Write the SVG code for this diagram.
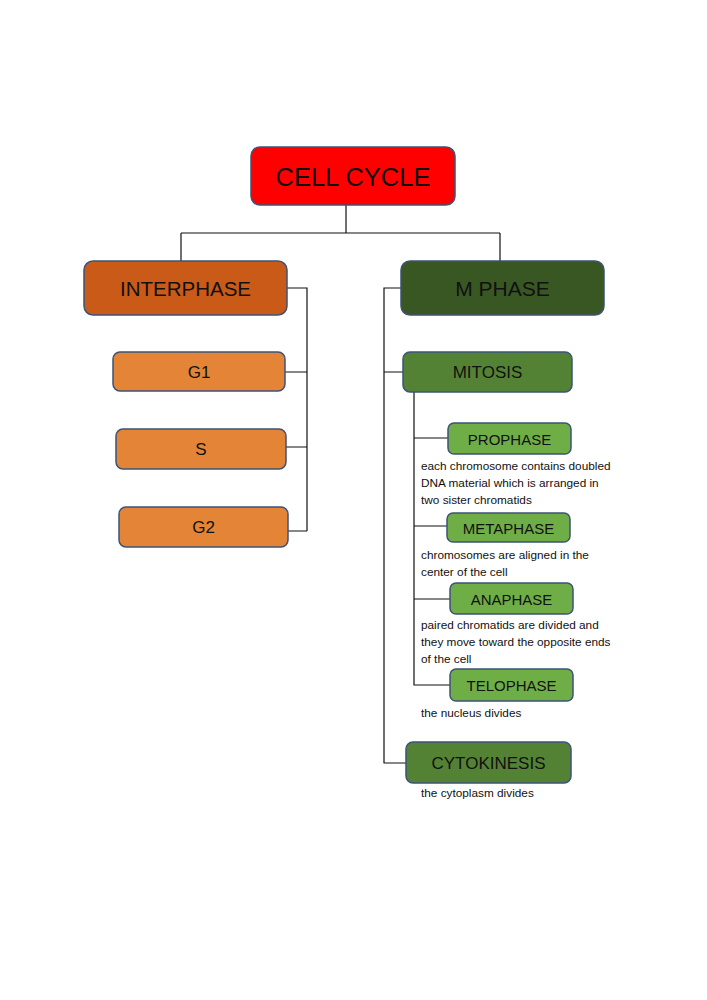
<svg xmlns="http://www.w3.org/2000/svg" width="707" height="1000" viewBox="0 0 707 1000">
<style>
.box{stroke:#3D5377;stroke-width:1.5}
.lbl{font-family:"Liberation Sans",Arial,sans-serif;fill:#111;text-anchor:middle;dominant-baseline:central}
.desc{font-family:"Liberation Sans",Arial,sans-serif;fill:#111;font-size:11.8px}
.conn{fill:none;stroke:#111;stroke-width:1.2}
</style>
<rect width="707" height="1000" fill="#fff"/>
<g id="connectors">
<path class="conn" d="M346,205 V233 M181,233 H500 M181,233 V261 M500,233 V261"/>
<path class="conn" d="M287,288 H307 V531 M307,372 H285 M307,447 H286 M307,531 H288"/>
<path class="conn" d="M401,288 H384 V763 H406 M384,372 H403"/>
<path class="conn" d="M414,392 V685 H450 M414,438 H448 M414,526 H447 M414,599 H450"/>
</g>
<g id="cell-cycle">
<rect class="box" x="251" y="147" width="204" height="58" rx="9" fill="#FF0000"/>
<text class="lbl" x="353" y="177" font-size="25.5">CELL CYCLE</text>
</g>
<g id="interphase">
<rect class="box" x="84" y="261" width="203" height="54" rx="9" fill="#C95A18"/>
<text class="lbl" x="185.5" y="288" font-size="20.5">INTERPHASE</text>
</g>
<g id="m-phase">
<rect class="box" x="401" y="261" width="203" height="54" rx="9" fill="#385723"/>
<text class="lbl" x="502.5" y="288" font-size="21">M PHASE</text>
</g>
<g id="g1">
<rect class="box" x="113" y="352" width="172" height="39" rx="7" fill="#E38436"/>
<text class="lbl" x="199" y="372" font-size="17">G1</text>
</g>
<g id="s">
<rect class="box" x="116" y="429" width="170" height="40" rx="7" fill="#E38436"/>
<text class="lbl" x="201" y="449" font-size="17">S</text>
</g>
<g id="g2">
<rect class="box" x="119" y="507" width="169" height="40" rx="7" fill="#E38436"/>
<text class="lbl" x="203.5" y="527" font-size="17">G2</text>
</g>
<g id="mitosis">
<rect class="box" x="403" y="352" width="169" height="40" rx="7" fill="#548235"/>
<text class="lbl" x="487.5" y="372" font-size="17">MITOSIS</text>
</g>
<g id="prophase">
<rect class="box" x="448" y="423" width="123" height="31" rx="6" fill="#6FAE47"/>
<text class="lbl" x="509.5" y="439" font-size="15">PROPHASE</text>
<text class="desc" x="421" y="470">each chromosome contains doubled</text>
<text class="desc" x="421" y="487">DNA material which is arranged in</text>
<text class="desc" x="421" y="504">two sister chromatids</text>
</g>
<g id="metaphase">
<rect class="box" x="447" y="513" width="123" height="29" rx="6" fill="#6FAE47"/>
<text class="lbl" x="508.5" y="528" font-size="15">METAPHASE</text>
<text class="desc" x="421" y="559">chromosomes are aligned in the</text>
<text class="desc" x="421" y="576">center of the cell</text>
</g>
<g id="anaphase">
<rect class="box" x="450" y="583" width="123" height="31" rx="6" fill="#6FAE47"/>
<text class="lbl" x="511.5" y="599" font-size="15">ANAPHASE</text>
<text class="desc" x="421" y="629">paired chromatids are divided and</text>
<text class="desc" x="421" y="646">they move toward the opposite ends</text>
<text class="desc" x="421" y="663">of the cell</text>
</g>
<g id="telophase">
<rect class="box" x="450" y="669" width="123" height="32" rx="6" fill="#6FAE47"/>
<text class="lbl" x="511.5" y="685" font-size="15">TELOPHASE</text>
<text class="desc" x="421" y="717">the nucleus divides</text>
</g>
<g id="cytokinesis">
<rect class="box" x="406" y="742" width="165" height="41" rx="7" fill="#548235"/>
<text class="lbl" x="488.5" y="763" font-size="17">CYTOKINESIS</text>
<text class="desc" x="421" y="797">the cytoplasm divides</text>
</g>
</svg>
